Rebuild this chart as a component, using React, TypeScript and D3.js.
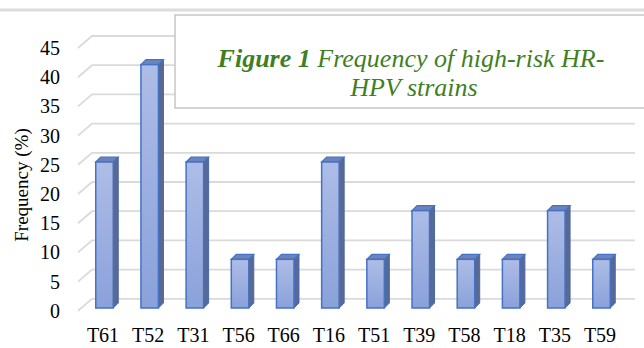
import React from "react";
import * as d3 from "d3";

const categories = ["T61", "T52", "T31", "T56", "T66", "T16", "T51", "T39", "T58", "T18", "T35", "T59"];
const frequency = [25, 41.67, 25, 8.33, 8.33, 25, 8.33, 16.67, 8.33, 8.33, 16.67, 8.33];
const yTicks = [0, 5, 10, 15, 20, 25, 30, 35, 40, 45];
const titleBold = "Figure 1";
const titleLine1 = " Frequency of high-risk HR-";
const titleLine2 = "HPV strains";
const yTitle = "Frequency (%)";

const W = 644;
const H = 348;

export default function App() {
  const x = d3.scalePoint<string>().domain(categories).range([104.5, 601.5]);
  const y = d3.scaleLinear().domain([0, 45]).range([308, 308 - 45 * 5.84]);
  const frontOff = 2.8;
  const backDx = 14;
  const backDy = -12;
  const barW = 17.5;
  const dx = 5;
  const dy = -5;
  const serif = "'Liberation Serif', 'Times New Roman', serif";

  return (
    <div style={{ position: "absolute", left: 0, top: 0 }}>
      <svg width={W} height={H} style={{ display: "block", background: "#fff" }}>
        <defs>
          <linearGradient id="front" x1="0" y1="0" x2="0" y2="1">
            <stop offset="0%" stopColor="#aebde7" />
            <stop offset="100%" stopColor="#8aa1da" />
          </linearGradient>
        </defs>
        <line x1={0} x2={W} y1={10} y2={10} stroke="#dcdcdc" strokeWidth={3} />
        {yTicks.map((t) => {
          const yf = y(t) + frontOff;
          return (
            <g key={t}>
              <polyline
                points={`${78},${yf} ${78 + backDx},${yf + backDy} ${635},${yf + backDy}`}
                fill="none"
                stroke="#dadada"
                strokeWidth={1.8}
              />
              <text x={60} y={yf} dy="0.35em" textAnchor="end" fontFamily={serif} fontSize={20} fill="#000">
                {t}
              </text>
            </g>
          );
        })}
        {categories.map((c, i) => {
          const cx = x(c)!;
          const x0 = cx - barW / 2;
          const x1 = cx + barW / 2;
          const yt = y(frequency[i]);
          const yb = y(0);
          return (
            <g key={c}>
              <polygon
                points={`${x1},${yt} ${x1 + dx},${yt + dy} ${x1 + dx},${yb + dy} ${x1},${yb}`}
                fill="#5a6894"
                stroke="#4a66b0"
                strokeWidth={1}
              />
              <polygon
                points={`${x0},${yt} ${x0 + dx},${yt + dy} ${x1 + dx},${yt + dy} ${x1},${yt}`}
                fill="#6e82bb"
                stroke="#4472c4"
                strokeWidth={1.2}
              />
              <rect x={x0} y={yt} width={barW} height={yb - yt} fill="url(#front)" stroke="#4472c4" strokeWidth={1.5} />
              <text x={cx - 1.5} y={342} textAnchor="middle" fontFamily={serif} fontSize={20} fill="#000">
                {c}
              </text>
            </g>
          );
        })}
        <text
          transform={`translate(28,185) rotate(-90)`}
          textAnchor="middle"
          fontFamily={serif}
          fontSize={19}
          fill="#000"
        >
          {yTitle}
        </text>
        <rect x={175} y={15} width={500} height={93} fill="#fff" stroke="#c6c6c6" strokeWidth={1.5} />
        <text x={411} y={67} textAnchor="middle" fontFamily={serif} fontSize={26} fontStyle="italic" fill="#3f7f22">
          <tspan fontWeight="bold">{titleBold}</tspan>
          <tspan>{titleLine1}</tspan>
        </text>
        <text x={414} y={96} textAnchor="middle" fontFamily={serif} fontSize={26} fontStyle="italic" fill="#3f7f22">
          {titleLine2}
        </text>
      </svg>
    </div>
  );
}
